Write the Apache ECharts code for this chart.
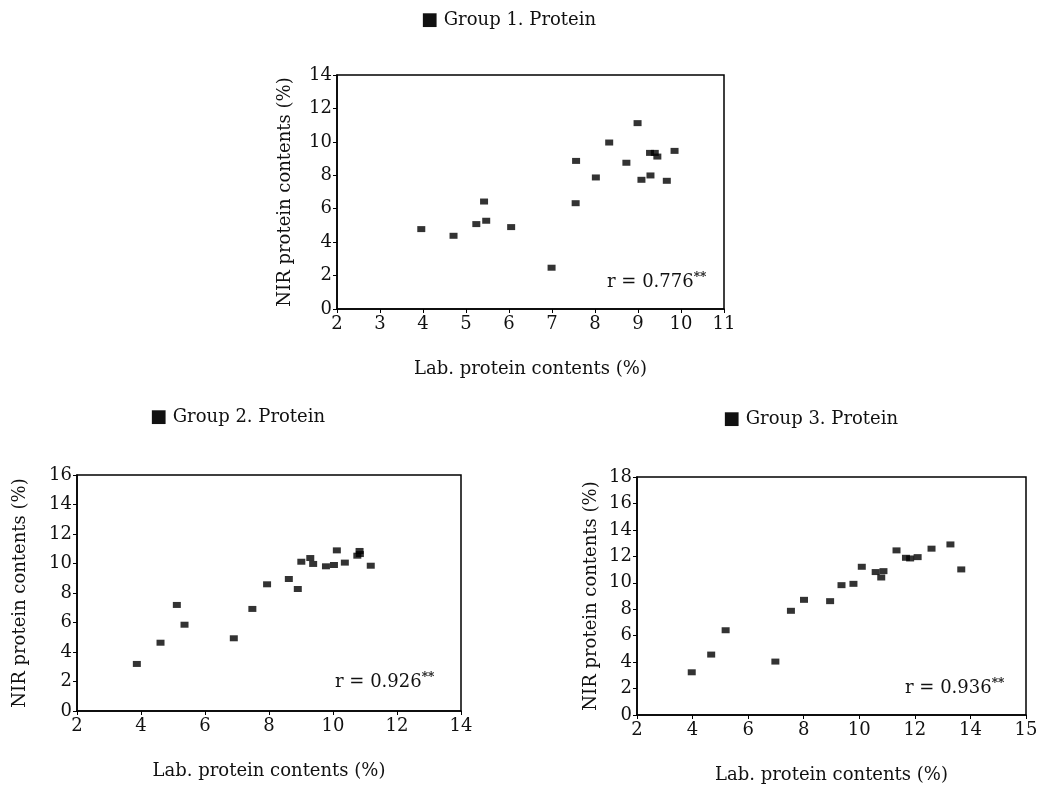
<!DOCTYPE html>
<html>
<head>
<meta charset="utf-8">
<script src="https://cdn.jsdelivr.net/npm/echarts@6/dist/echarts.min.js"></script>
<style>
  html, body { margin: 0; background: #fff; }
  #main { width: 1042px; height: 785px; }
</style>
</head>
<body>
<div id="main"></div>
<script>
// Group 1: lab value (x) vs NIR value (y)
var g1Lab = [3.96, 4.71, 5.24, 5.42, 5.47, 6.05, 6.99, 7.55, 7.56, 8.02, 8.33, 8.73, 8.99, 9.08, 9.29, 9.28, 9.39, 9.45, 9.67, 9.85]
var g1Nir = [4.78, 4.38, 5.08, 6.43, 5.28, 4.90, 2.47, 6.33, 8.86, 7.87, 9.96, 8.75, 11.12, 7.73, 7.99, 9.34, 9.34, 9.12, 7.67, 9.46]

// Group 2
var g2Lab = [3.87, 4.61, 5.12, 5.36, 6.90, 7.48, 7.94, 8.62, 8.90, 9.01, 9.29, 9.38, 9.78, 10.03, 10.12, 10.37, 10.76, 10.83, 10.84, 11.18]
var g2Nir = [3.19, 4.63, 7.19, 5.85, 4.93, 6.92, 8.59, 8.95, 8.27, 10.12, 10.37, 9.97, 9.81, 9.90, 10.89, 10.06, 10.53, 10.85, 10.64, 9.85]

// Group 3
var g3Lab = [3.97, 4.67, 5.19, 6.98, 7.54, 8.01, 8.95, 9.36, 9.79, 10.09, 10.59, 10.79, 10.87, 11.34, 11.68, 11.83, 12.10, 12.60, 13.28, 13.67]
var g3Nir = [3.23, 4.57, 6.41, 4.04, 7.88, 8.71, 8.61, 9.82, 9.92, 11.21, 10.81, 10.40, 10.88, 12.45, 11.89, 11.84, 11.94, 12.58, 12.90, 11.01]

var titles = ['\u25A0 Group 1. Protein', '\u25A0 Group 2. Protein', '\u25A0 Group 3. Protein']
var rValues = ['0.776', '0.926', '0.936']
var xName = 'Lab. protein contents (%)'
var yName = 'NIR protein contents (%)'

var FONT = 'DejaVu Serif'

function zip (xs, ys) {
  return xs.map(function (x, i) { return [x, ys[i]] })
}

function makeX (idx, min, max, interval, fmt) {
  return {
    gridIndex: idx,
    type: 'value',
    min: min,
    max: max,
    interval: interval,
    name: xName,
    nameLocation: 'middle',
    nameGap: 51,
    nameTextStyle: { fontFamily: FONT, fontSize: 18, color: '#111' },
    axisLine: { lineStyle: { color: '#000', width: 1.5 } },
    axisTick: { show: true, length: 4, lineStyle: { color: '#000' } },
    axisLabel: { fontFamily: FONT, fontSize: 18, color: '#111', margin: 6, formatter: fmt },
    splitLine: { show: false }
  }
}

function makeY (idx, min, max, interval, gap) {
  return {
    gridIndex: idx,
    type: 'value',
    min: min,
    max: max,
    interval: interval,
    name: yName,
    nameLocation: 'middle',
    nameGap: gap,
    nameTextStyle: { fontFamily: FONT, fontSize: 18, color: '#111' },
    axisLine: { lineStyle: { color: '#000', width: 1.5 } },
    axisTick: { show: true, length: 4, lineStyle: { color: '#000' } },
    axisLabel: { fontFamily: FONT, fontSize: 18, color: '#111', margin: 5 },
    splitLine: { show: false }
  }
}

function makeSeries (idx, data) {
  return {
    type: 'scatter',
    xAxisIndex: idx,
    yAxisIndex: idx,
    data: data,
    symbol: 'rect',
    symbolSize: [8, 6],
    itemStyle: { color: '#000' },
    silent: true,
    animation: false
  }
}

function rLabel (left, top, value) {
  return {
    type: 'text',
    left: left,
    top: top,
    style: {
      text: '{a|r = ' + value + '}{s|**}',
      rich: {
        a: { fontFamily: FONT, fontSize: 18, fill: '#111' },
        s: { fontFamily: FONT, fontSize: 12, fontWeight: 'bold', fill: '#111', verticalAlign: 'top', padding: [0, 0, 8, 0] }
      }
    }
  }
}

var chart = echarts.init(document.getElementById('main'))

var option = {
  backgroundColor: '#fff',
  animation: false,
  title: [
    { text: titles[0], left: 416, top: 6, textStyle: { fontFamily: FONT, fontSize: 18, fontWeight: 'normal', color: '#111' } },
    { text: titles[1], left: 145, top: 403, textStyle: { fontFamily: FONT, fontSize: 18, fontWeight: 'normal', color: '#111' } },
    { text: titles[2], left: 718, top: 405, textStyle: { fontFamily: FONT, fontSize: 18, fontWeight: 'normal', color: '#111' } }
  ],
  grid: [
    { left: 337, top: 75, width: 387, height: 234, show: true, borderColor: '#000', borderWidth: 1.5 },
    { left: 77, top: 475, width: 384, height: 236, show: true, borderColor: '#000', borderWidth: 1.5 },
    { left: 637, top: 477, width: 389, height: 238, show: true, borderColor: '#000', borderWidth: 1.5 }
  ],
  xAxis: [
    makeX(0, 2, 11, 1),
    makeX(1, 2, 14, 2),
    // the printed axis runs to 16 but its last tick is labelled "15"
    makeX(2, 2, 16, 2, function (v) { return v === 16 ? '15' : String(v) })
  ],
  yAxis: [
    makeY(0, 0, 14, 2, 43),
    makeY(1, 0, 16, 2, 48),
    makeY(2, 0, 18, 2, 37)
  ],
  series: [
    makeSeries(0, zip(g1Lab, g1Nir)),
    makeSeries(1, zip(g2Lab, g2Nir)),
    makeSeries(2, zip(g3Lab, g3Nir))
  ],
  graphic: [
    rLabel(607, 272, rValues[0]),
    rLabel(335, 672, rValues[1]),
    rLabel(905, 678, rValues[2])
  ]
}

chart.setOption(option)
</script>
</body>
</html>
